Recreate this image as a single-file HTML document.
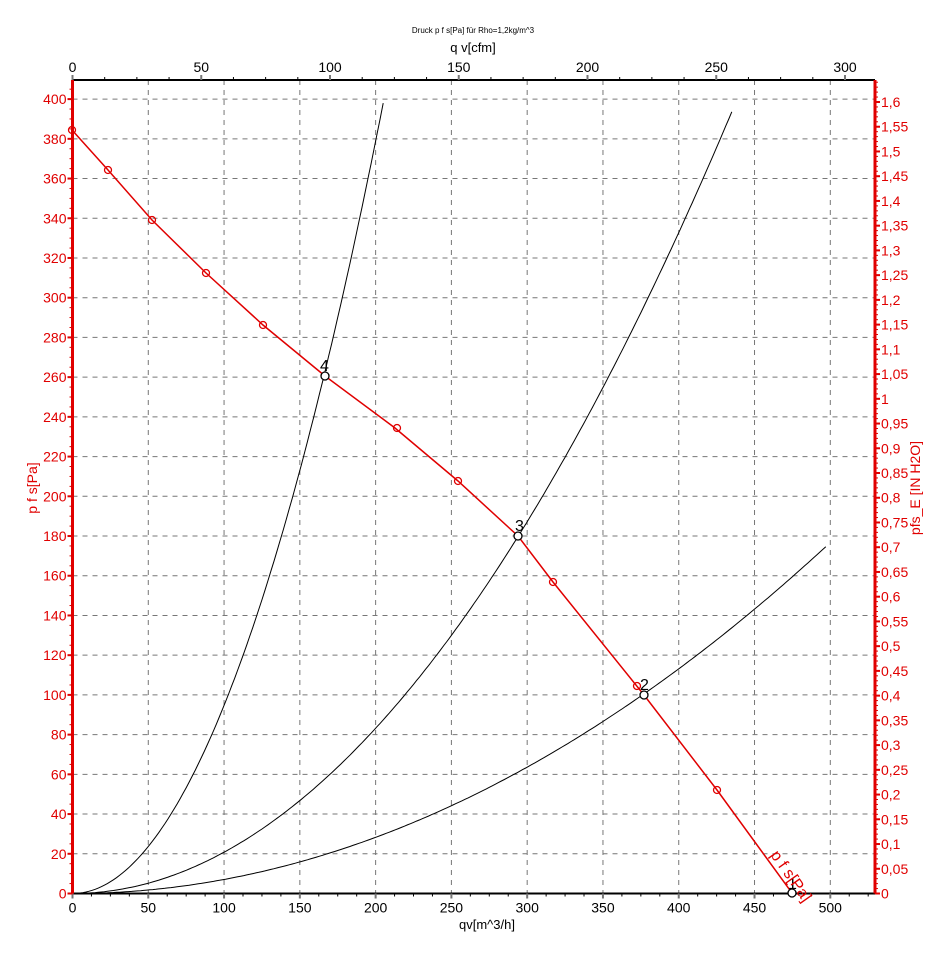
<!DOCTYPE html>
<html><head><meta charset="utf-8"><style>
body{margin:0;background:#fff;}
svg{display:block;font-family:"Liberation Sans",sans-serif;}
</style></head><body>
<svg id="s" width="947" height="971" xmlns="http://www.w3.org/2000/svg">
<rect width="947" height="971" fill="#fff"/>
<g id="grid" stroke="#777" stroke-width="1" stroke-dasharray="5,5"></g>
<g id="axes"></g>
<g id="curves" fill="none" stroke="#000" stroke-width="1"></g>
<polyline fill="none" stroke="#e00000" stroke-width="1.5" points="72,130 108,170 152,220 206,273 263,325 325,376 395,428 458,481 518,536 553,582 644,695 717,790 792,893"/>
<g fill="none" stroke="#e00000" stroke-width="1.3">
<circle cx="108" cy="170" r="3.5"/><circle cx="152" cy="220" r="3.5"/><circle cx="206" cy="273" r="3.5"/><circle cx="263" cy="325" r="3.5"/><circle cx="397" cy="428" r="3.5"/><circle cx="458" cy="481" r="3.5"/><circle cx="553" cy="582" r="3.5"/><circle cx="637" cy="686" r="3.5"/><circle cx="717" cy="790" r="3.5"/><circle cx="72" cy="130" r="3.5"/>
</g>
<g fill="#fff" stroke="#000" stroke-width="1.3">
<circle cx="325" cy="376" r="4"/><circle cx="518" cy="536" r="4"/><circle cx="644" cy="695" r="4"/><circle cx="792" cy="893" r="4"/>
</g>
<g font-size="16" fill="#000">
<text x="320" y="371">4</text><text x="515" y="531">3</text><text x="640" y="690">2</text><text x="788" y="889">1</text>
</g>
<text x="770" y="855" font-size="16" fill="#e00000" transform="rotate(55 770 855)">p  f  s[Pa]</text>
<text x="473" y="33" font-size="8" text-anchor="middle">Druck p f s[Pa] für Rho=1,2kg/m^3</text>
<text x="473" y="52" font-size="13" text-anchor="middle">q v[cfm]</text>
<text x="487" y="929" font-size="13" text-anchor="middle">qv[m^3/h]</text>
<text x="37" y="488" font-size="14" fill="#e00000" text-anchor="middle" transform="rotate(-90 37 488)">p f s[Pa]</text>
<text x="920" y="488" font-size="14" fill="#e00000" text-anchor="middle" transform="rotate(-90 920 488)">pfs_E [IN H2O]</text>
</svg>
<script>
var NS="http://www.w3.org/2000/svg";
function el(p,t,a,txt){var e=document.createElementNS(NS,t);for(var k in a)e.setAttribute(k,a[k]);if(txt!=null)e.textContent=txt;p.appendChild(e);return e;}
var L=72.5,R=875,T=80,B=893.5,px=1.5156,py=1.986;
function X(q){return L+q*px;} function Y(p){return B-p*py;}
var g=document.getElementById('grid'),a=document.getElementById('axes'),c=document.getElementById('curves');
for(var q=50;q<=500;q+=50)el(g,'line',{x1:X(q),x2:X(q),y1:T,y2:B});
for(var p=20;p<=400;p+=20)el(g,'line',{x1:L,x2:R,y1:Y(p),y2:Y(p)});
// bottom axis
el(a,'line',{x1:L,x2:R,y1:B,y2:B,stroke:'#000','stroke-width':2});
for(var q=0;q<=525;q+=12.5){var maj=q%50==0;el(a,'line',{x1:X(q),x2:X(q),y1:B,y2:B+(maj?5:3),stroke:maj?'#777':'#000','stroke-width':maj?2:1});
 if(maj)el(a,'text',{x:X(q),y:B+19,'font-size':14,'text-anchor':'middle'},String(q));}
// top axis cfm
el(a,'line',{x1:L,x2:R,y1:T,y2:T,stroke:'#000','stroke-width':2});
var pc=1.699*px;
for(var f=0;f<=310;f+=12.5){var xx=L+f*pc;if(xx>R)break;var maj=f%50==0;el(a,'line',{x1:xx,x2:xx,y1:T,y2:T-(maj?5:3),stroke:maj?'#777':'#000','stroke-width':maj?2:1});
 if(maj)el(a,'text',{x:xx,y:T-8,'font-size':14,'text-anchor':'middle'},String(f));}
// left axis
el(a,'line',{x1:L,x2:L,y1:T,y2:B,stroke:'#e00000','stroke-width':3});
for(var p=0;p<=409;p+=5){var maj=p%20==0;el(a,'line',{x1:L,x2:L-(maj?5:3),y1:Y(p),y2:Y(p),stroke:'#e00000','stroke-width':maj?2:1});
 if(maj)el(a,'text',{x:L-6,y:Y(p)+5,'font-size':14,fill:'#e00000','text-anchor':'end'},String(p));}
// right axis
el(a,'line',{x1:R,x2:R,y1:T,y2:B,stroke:'#e00000','stroke-width':3});
var pi=249.0889*py;
for(var i=0;i<=164;i++){var v=i/100,yy=B-v*pi;if(yy<T)break;var maj=i%5==0;el(a,'line',{x1:R,x2:R+(maj?5:3),y1:yy,y2:yy,stroke:'#e00000','stroke-width':maj?2:1});
 if(maj){var s=(Math.round(v*100)/100).toString().replace('.',',');el(a,'text',{x:R+6,y:yy+5,'font-size':14,fill:'#e00000'},s);}}
// system curves
function curve(k,qmax){var pts=[];for(var q=5;q<=qmax;q+=2){pts.push(X(q).toFixed(1)+','+Y(k*q*q).toFixed(1));}el(c,'polyline',{points:pts.join(' ')});}
curve(7.07e-4,498);curve(2.08e-3,436);curve(9.47e-3,205.5);
</script>
</body></html>
